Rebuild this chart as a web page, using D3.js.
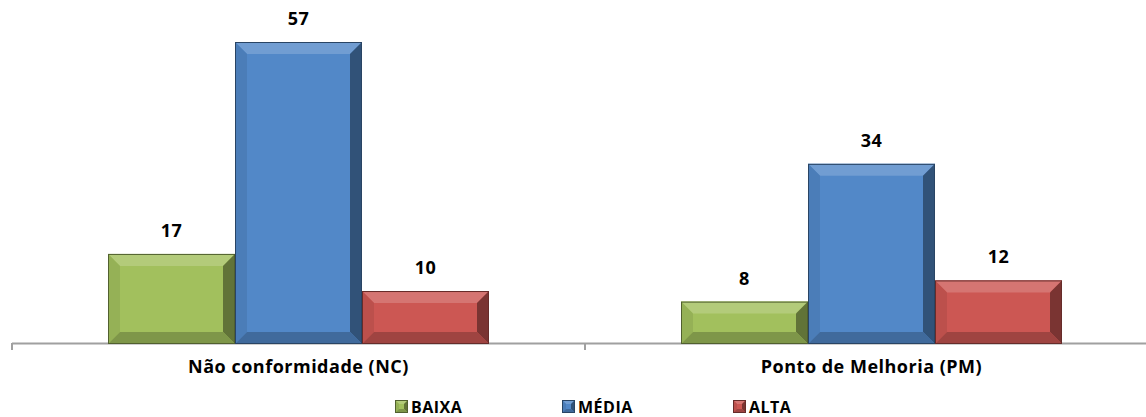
<!DOCTYPE html>
<html lang="pt">
<head>
  <meta charset="UTF-8">
  <title>Chart</title>
  <style>
    body { margin: 0; background: #fff; }
    text { font-family: "Open Sans", "Liberation Sans", Arial, sans-serif; font-weight: bold; letter-spacing: 0.5px; }
  </style>
</head>
<body>
  <script src="https://cdn.jsdelivr.net/npm/d3@7/dist/d3.min.js"></script>
  <script>
    var width = 1146;
    var height = 417;

    // dados
    var categories = ["Não conformidade (NC)", "Ponto de Melhoria (PM)"];
    var seriesNames = ["BAIXA", "MÉDIA", "ALTA"];
    var baixa = [17, 8];
    var media = [57, 34];
    var alta = [10, 12];
    var colors = ["#a2c05d", "#5288c8", "#cc5753"];

    var values = [baixa, media, alta];

    var svg = d3.select("body").append("svg")
      .attr("width", width)
      .attr("height", height);

    var x0 = d3.scaleBand().domain(categories).range([12, 1158]);
    var x1 = d3.scaleBand().domain(seriesNames).range([0, 381]);
    var y = d3.scaleLinear().domain([0, 57]).range([344, 42]);

    // eixo
    var axis = svg.append("g");
    axis.append("line")
      .attr("x1", 12).attr("x2", width).attr("y1", 343.5).attr("y2", 343.5)
      .attr("stroke", "#a0a0a0").attr("stroke-width", 2);
    [12, 12 + x0.bandwidth()].forEach(function (t) {
      axis.append("line")
        .attr("x1", t).attr("x2", t).attr("y1", 343).attr("y2", 350)
        .attr("stroke", "#a0a0a0").attr("stroke-width", 2);
    });

    function bevel(g, x, yTop, w, h, c, b) {
      var light = d3.interpolateRgb(c, "#ffffff")(0.18);
      var dark = d3.interpolateRgb(c, "#000000")(0.4);
      var bottom = d3.interpolateRgb(c, "#000000")(0.22);
      var darker = d3.interpolateRgb(c, "#000000")(0.5);
      var mid = d3.interpolateRgb(c, "#000000")(0.08);
      b = Math.min(b, h / 2.2);
      var x2 = x + w, y2 = yTop + h;
      g.append("rect").attr("x", x).attr("y", yTop).attr("width", w).attr("height", h)
        .attr("fill", c);
      // cima
      g.append("polygon").attr("points", [[x, yTop], [x2, yTop], [x2 - b, yTop + b], [x + b, yTop + b]].join(" "))
        .attr("fill", light);
      // esquerda
      g.append("polygon").attr("points", [[x, yTop], [x + b, yTop + b], [x + b, y2 - b], [x, y2]].join(" "))
        .attr("fill", mid);
      // direita
      g.append("polygon").attr("points", [[x2, yTop], [x2, y2], [x2 - b, y2 - b], [x2 - b, yTop + b]].join(" "))
        .attr("fill", dark);
      // baixo
      g.append("polygon").attr("points", [[x, y2], [x + b, y2 - b], [x2 - b, y2 - b], [x2, y2]].join(" "))
        .attr("fill", bottom);
      g.append("rect").attr("x", x + 0.5).attr("y", yTop + 0.5).attr("width", w - 1).attr("height", h - 1)
        .attr("fill", "none").attr("stroke", darker).attr("stroke-width", 1);
    }

    var groups = svg.selectAll(".grp")
      .data(categories)
      .enter().append("g")
      .attr("class", "grp")
      .attr("transform", function (d) {
        return "translate(" + (x0(d) + (x0.bandwidth() - 381) / 2) + ",0)";
      });

    groups.each(function (cat, ci) {
      var g = d3.select(this);
      seriesNames.forEach(function (s, si) {
        var v = values[si][ci];
        bevel(g, x1(s), y(v), x1.bandwidth(), y(0) - y(v), colors[si], 12);
        g.append("text")
          .attr("x", x1(s) + x1.bandwidth() / 2)
          .attr("y", y(v) - 17)
          .attr("text-anchor", "middle")
          .attr("font-size", 18)
          .attr("fill", "#000")
          .text(v);
      });
      g.append("text")
        .attr("x", 190.5)
        .attr("y", 373)
        .attr("text-anchor", "middle")
        .attr("font-size", 18)
        .text(cat);
    });

    // legenda
    var legX = [395, 562, 733];
    var legend = svg.selectAll(".leg")
      .data(seriesNames)
      .enter().append("g")
      .attr("class", "leg")
      .attr("transform", function (d, i) { return "translate(" + legX[i] + ",400)"; });
    legend.each(function (d, i) {
      bevel(d3.select(this), 0, 0, 13, 13, colors[i], 4);
    });
    legend.append("text")
      .attr("x", 16)
      .attr("y", 13)
      .attr("font-size", 16)
      .text(function (d) { return d; });
  </script>
</body>
</html>
